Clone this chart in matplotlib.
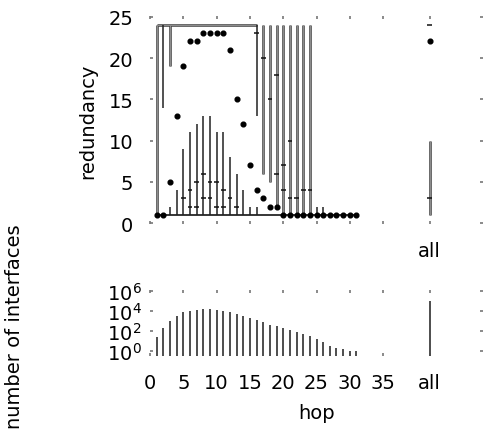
import matplotlib

matplotlib.use("Agg")
import matplotlib.pyplot as plt
import numpy as np

plt.rcParams["font.family"] = ["DejaVu Sans"]
plt.rcParams["mathtext.fontset"] = "dejavusans"
FS = 14

GREY, EDGE, DARK = "#8c8c8c", "#3a3a3a", "#4d4d4d"

hops = np.arange(1, 32)
nan = np.nan

# redundancy per hop
mean_red = [1, 1, 5, 13, 19, 22, 22, 23, 23, 23, 23, 21, 15, 12, 7, 4,
            3, 2, 2, 1, 1, 1, 1, 1, 1, 1, 1, 1, 1, 1, 1]
# long grey ranges (upper whisker part)
grey_lo = [1, nan, 19, nan, nan, nan, nan, nan, nan, nan, nan, nan, nan, nan, nan, nan,
           6, 5, 2, 1, 1, 1, 1, 1, nan, nan, nan, nan, nan, nan, nan]
grey_hi = [24, nan, 24, nan, nan, nan, nan, nan, nan, nan, nan, nan, nan, nan, nan, nan,
           24, 24, 24, 24, 24, 24, 24, 24, nan, nan, nan, nan, nan, nan, nan]
# thin black ranges
black_lo = [nan, 14, 1, 1, 1, 1, 1, 1, 1, 1, 1, 1, 1, 1, 1, 13,
            nan, nan, nan, nan, nan, nan, nan, nan, 1, 1, nan, nan, nan, nan, nan]
black_hi = [nan, 24, 2, 4, 9, 11, 12, 13, 13, 11, 11, 8, 6, 4, 2, 24,
            nan, nan, nan, nan, nan, nan, nan, nan, 2, 2, nan, nan, nan, nan, nan]
low_stub_hi = [nan] * 15 + [2] + [nan] * 15
tick_a = [nan, nan, nan, nan, 3, 4, 5, 6, 5, 5, 4, 3, 2, nan, nan, 23,
          20, 15, 6, 4, 10, 3, 4, 4, nan, nan, nan, nan, nan, nan, nan]
tick_b = [nan, nan, nan, nan, nan, 2, 2, 3, 3, 2, 2, nan, nan, nan, nan, nan,
          nan, nan, 18, 7, 3, nan, nan, nan, nan, nan, nan, nan, nan, nan, nan]
upper_env = [24] * 16
lower_env = [1] * 31

# aggregate column "all"
ALL_X = 42
all_mean, all_top, all_lo, all_hi, all_tick = 22, 24, 1, 10, 3

# number of interfaces per hop (log10)
log_count = [1.4, 2.3, 3.0, 3.5, 3.9, 4.0, 4.1, 4.2, 4.2, 4.1, 4.0, 3.9, 3.7, 3.5,
             3.3, 3.1, 2.9, 2.6, 2.5, 2.3, 2.1, 1.9, 1.7, 1.5, 1.2, 0.9, 0.5, 0.3,
             0.2, 0.05, 0.0]
log_count_all = 5.0

fig = plt.figure(figsize=(5.0, 4.39), dpi=100)
ax = fig.add_axes([0.300, 0.4875, 0.666, 0.474])
bx = fig.add_axes([0.300, 0.1868, 0.666, 0.150])


def style(a, pad):
    for s in a.spines.values():
        s.set_visible(False)
    a.tick_params(direction="in", length=2, width=1.2, color="#777777",
                  labelsize=FS, top=True, right=True)
    a.tick_params(axis="y", pad=12)
    a.tick_params(axis="x", pad=pad)


def grey_bar(a, x, lo, hi):
    a.vlines(x, lo, hi, color=EDGE, lw=1.8, zorder=2)
    a.vlines(x, lo, hi, color=GREY, lw=0.8, zorder=3)


# top panel
style(ax, 12)
ax.plot(hops[:len(upper_env)], upper_env, color=EDGE, lw=1.8, zorder=2, solid_capstyle="butt")
ax.plot(hops[:len(upper_env)], upper_env, color=GREY, lw=0.8, zorder=3, solid_capstyle="butt")
ax.plot(hops, lower_env, color="black", lw=1.1, zorder=3)
grey_bar(ax, hops, grey_lo, grey_hi)
ax.vlines(hops, black_lo, black_hi, color="#222222", lw=1.1, zorder=3)
ax.vlines(hops, 1, low_stub_hi, color="#222222", lw=1.1, zorder=3)
for t in (tick_a, tick_b):
    ax.hlines(t, hops - 0.35, hops + 0.35, color="#111111", lw=1.1, zorder=4)
ax.plot(hops, mean_red, "o", color="black", ms=3.4, zorder=5)
grey_bar(ax, [ALL_X], [all_lo], [all_hi])
ax.hlines([all_tick, all_top], ALL_X - 0.35, ALL_X + 0.35, color="#111111", lw=1.1, zorder=4)
ax.plot([ALL_X], [all_mean], "o", color="black", ms=3.4, zorder=5)

ax.set_xlim(0, 50)
ax.set_ylim(-0.1, 25.1)
ax.set_yticks(range(0, 26, 5))
ax.set_xticks(list(range(0, 36, 5)) + [ALL_X])
ax.set_xticklabels([""] * 8 + ["all"])
ax.set_ylabel("redundancy", fontsize=FS, labelpad=8)

# bottom panel
style(bx, 12)
bx.set_yscale("log")
ymin = 10 ** -0.5
bx.vlines(hops, ymin, 10 ** np.array(log_count), color=DARK, lw=1.4)
bx.vlines([ALL_X], ymin, [10 ** log_count_all], color=DARK, lw=1.4)
bx.set_xlim(0, 50)
bx.set_ylim(ymin, 10 ** 6.1)
bx.set_yticks([1, 1e2, 1e4, 1e6])
bx.set_yticklabels([r"$10^0$", r"$10^2$", r"$10^4$", r"$10^6$"])
bx.minorticks_off()
bx.tick_params(axis="y", pad=6)
bx.set_xticks(list(range(0, 36, 5)) + [ALL_X])
bx.set_xticklabels([str(v) for v in range(0, 36, 5)] + ["all"])
bx.set_xlabel("hop", fontsize=FS, labelpad=8)
fig.text(0.03, 0.255, "number of interfaces", rotation=90, fontsize=FS,
         ha="center", va="center")

fig.savefig("out.png", dpi=100)
